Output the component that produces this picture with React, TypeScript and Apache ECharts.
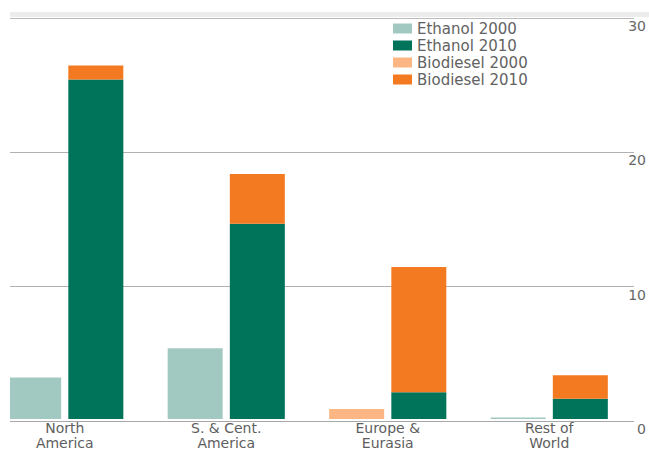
import React, { useEffect, useRef } from "react";
import * as echarts from "echarts";

// Regions on the category axis (two-line labels)
const regions = ["North\nAmerica", "S. & Cent.\nAmerica", "Europe &\nEurasia", "Rest of\nWorld"];

// Production by region, 2000 and 2010
const ethanol2000 = [3.1, 5.3, 0, 0.12];
const biodiesel2000 = [0, 0, 0.74, 0];
const ethanol2010 = [25.4, 14.6, 2.0, 1.52];
const biodiesel2010 = [1.04, 3.72, 9.37, 1.76];

// Value axis ticks
const axisMin = 0;
const axisMax = 30;
const axisStep = 10;

const seriesNames = ["Ethanol 2000", "Ethanol 2010", "Biodiesel 2000", "Biodiesel 2010"];

const FONT = "DejaVu Sans";

// The first region's band starts left of the visible frame; the chart canvas
// is shifted left by this much and cropped by the outer frame.
const BLEED = 26;

export default function App() {
  const ref = useRef<HTMLDivElement>(null);

  useEffect(() => {
    if (!ref.current) return;
    const chart = echarts.init(ref.current, null, { renderer: "svg" });

    const barBase = {
      type: "bar" as const,
      xAxisIndex: 0,
      yAxisIndex: 0,
      barWidth: 55,
      barGap: "13%",
    };

    chart.setOption({
      animation: false,
      backgroundColor: "#ffffff",
      textStyle: { fontFamily: FONT },
      grid: [
        // bars
        { left: 0, right: 19, top: 18, bottom: 29 },
        // gridlines and value labels spanning the visible width
        { left: BLEED, right: 0, top: 18, bottom: 29 },
      ],
      legend: {
        data: seriesNames,
        orient: "vertical",
        left: 383 + BLEED,
        top: 21,
        padding: 0,
        itemWidth: 19,
        itemHeight: 10,
        itemGap: 2,
        icon: "rect",
        textStyle: { fontFamily: FONT, fontSize: 15, lineHeight: 15, color: "#626262" },
      },
      graphic: [
        {
          type: "rect",
          z: -1,
          shape: { x: BLEED, y: 12, width: 639, height: 5 },
          style: { fill: "#ececec" },
        },
      ],
      xAxis: [
        {
          type: "category",
          gridIndex: 0,
          data: regions,
          axisLine: { show: false },
          axisTick: { show: false },
          axisLabel: {
            margin: 1,
            fontFamily: FONT,
            fontSize: 14,
            lineHeight: 15,
            color: "#5e5e5e",
            interval: 0,
          },
        },
        { type: "value", gridIndex: 1, show: false, min: 0, max: 1 },
      ],
      yAxis: [
        {
          type: "value",
          gridIndex: 0,
          min: axisMin,
          max: axisMax,
          interval: axisStep,
          show: false,
        },
        {
          type: "value",
          gridIndex: 1,
          position: "right",
          min: axisMin,
          max: axisMax,
          interval: axisStep,
          axisLine: { show: false },
          axisTick: { show: false },
          splitLine: {
            show: true,
            lineStyle: { color: ["#a8a8a8", "#b0b0b0", "#b0b0b0", "#bbbbbb"], width: 1 },
          },
          axisLabel: {
            margin: 12,
            align: "right",
            verticalAlign: "top",
            padding: [1, 0, 0, 0],
            fontFamily: FONT,
            fontSize: 14,
            color: "#666666",
          },
        },
      ],
      series: [
        { ...barBase, name: "Ethanol 2000", stack: "y2000", data: ethanol2000, itemStyle: { color: "#a2c9c1" } },
        { ...barBase, name: "Biodiesel 2000", stack: "y2000", data: biodiesel2000, itemStyle: { color: "#fbb683" } },
        { ...barBase, name: "Ethanol 2010", stack: "y2010", data: ethanol2010, itemStyle: { color: "#00735b" } },
        { ...barBase, name: "Biodiesel 2010", stack: "y2010", data: biodiesel2010, itemStyle: { color: "#f47a22" } },
      ],
    });

    return () => chart.dispose();
  }, []);

  return (
    <div
      style={{
        position: "absolute",
        left: 10,
        top: 0,
        width: 639,
        height: 450,
        overflow: "hidden",
        background: "#ffffff",
      }}
    >
      <div
        ref={ref}
        style={{ position: "absolute", left: -BLEED, top: 0, width: 639 + BLEED, height: 450 }}
      />
    </div>
  );
}
